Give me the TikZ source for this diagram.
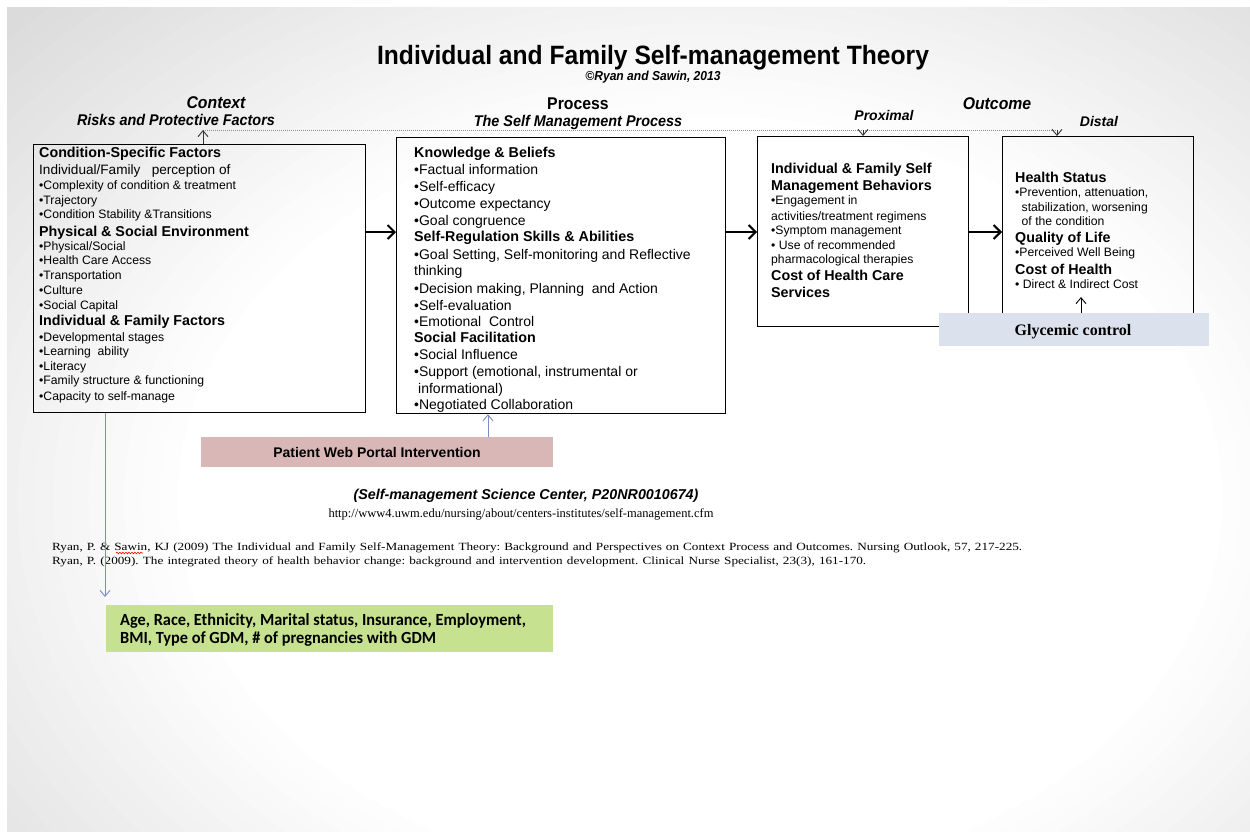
\documentclass[tikz,border=0pt]{standalone}
\usepackage{fontspec}
\setmainfont{Liberation Sans}
\newfontfamily\narrowf[FakeStretch=0.93]{Liberation Sans}
\newfontfamily\serf{Liberation Serif}
\newfontfamily\serwide[FakeStretch=1.2]{Liberation Serif}
\newfontfamily\carl[FakeStretch=0.96]{Carlito}
\usetikzlibrary{arrows.meta,decorations.pathmorphing}
\definecolor{pinkbox}{HTML}{D9B7B7}
\definecolor{glybox}{HTML}{DCE1EE}
\definecolor{greenbox}{HTML}{C6E18F}
\definecolor{bluearr}{HTML}{7A8BC6}
\newcommand\myfhd{\bfseries\fontsize{14.3}{16}\selectfont}
\newcommand\myfsb{\fontsize{13.6}{16}\selectfont}
\newcommand\myfit{\fontsize{12.2}{14}\selectfont}
\newcommand\myfpi{\fontsize{14}{16}\selectfont}
\begin{document}
\begin{tikzpicture}[x=1pt,y=-1pt,
  box/.style={draw=black, line width=1.2pt, inner sep=0pt, anchor=north west},
  txt/.style={anchor=base west, inner sep=0pt},
  ctr/.style={anchor=base, inner sep=0pt},
  bigarrow/.style={line width=2pt, -{Straight Barb[length=7pt,width=14pt]}},
  thinarrow/.style={line width=0.9pt, -{Straight Barb[length=6pt,width=10pt]}},
  dotline/.style={black!45, line width=1pt, dash pattern=on 1pt off 1pt},
  head/.style={ctr, font=\narrowf\bfseries\itshape\fontsize{17}{20}\selectfont},
  sub/.style={ctr, font=\narrowf\bfseries\itshape\fontsize{15.5}{18}\selectfont},
  subw/.style={ctr, font=\bfseries\itshape\fontsize{14}{16}\selectfont},
]
\useasboundingbox (0,0) rectangle (1250,831);
% slide background with soft grey edges
\begin{scope}
\clip (7,7) rectangle (1250,831);
\fill[black!14] (7,7) rectangle (1250,831);
\foreach \k in {0,...,24} {
  \pgfmathsetmacro\sc{1-0.45*\k/24}
  \pgfmathsetmacro\g{14*(1-\k/24)}
  \fill[black!\g] (700,500) ellipse ({950*\sc} and {700*\sc});
}
\end{scope}

% titles
\node[ctr, font=\narrowf\bfseries\fontsize{26.5}{30}\selectfont] (title) at (653,64) {Individual and Family Self-management Theory};
\node[ctr, font=\narrowf\bfseries\itshape\fontsize{13}{15}\selectfont] (copy) at (653,80) {©Ryan and Sawin, 2013};
\node[head] (context) at (216,108) {Context};
\node[sub] (risks) at (176,125) {Risks and Protective Factors};
\node[head, font=\narrowf\bfseries\fontsize{17}{20}\selectfont] (process) at (578,109) {Process};
\node[sub] (smp) at (578,126) {The Self Management Process};
\node[head] (outcome) at (997,109) {Outcome};
\node[subw] (proximal) at (884,120.7) {Proximal};
\node[subw] (distal) at (1099,126.7) {Distal};

% boxes
\node[box, minimum width=332pt, minimum height=268pt] (ctx) at (33,144) {};
\node[box, minimum width=329pt, minimum height=276pt] (proc) at (396,137) {};
\node[box, minimum width=211pt, minimum height=190pt] (prox) at (757,136) {};
\node[box, minimum width=191pt, minimum height=190pt] (dist) at (1002,136) {};
\node[fill=glybox, inner sep=0pt, anchor=north west, minimum width=270pt, minimum height=33pt] (gly) at (939,313) {};
\node[ctr, font=\serf\bfseries\fontsize{16}{18}\selectfont] (glytxt) at (1073,335) {Glycemic control};
\node[fill=pinkbox, inner sep=0pt, anchor=north west, minimum width=352pt, minimum height=30pt] (pat) at (201,437) {};
\node[ctr, font=\bfseries\fontsize{14}{16}\selectfont] (pattxt) at (377,457) {Patient Web Portal Intervention};
\node[fill=greenbox, inner sep=0pt, anchor=north west, minimum width=447pt, minimum height=47pt] (green) at (106,605) {};
\node[txt, font=\carl\bfseries\fontsize{17}{20}\selectfont] (g1) at (120,625) {Age, Race, Ethnicity, Marital status, Insurance, Employment,};
\node[txt, font=\carl\bfseries\fontsize{17}{20}\selectfont] (g2) at (120,643) {BMI, Type of GDM, \# of pregnancies with GDM};

% box texts
\foreach \y/\s/\t [count=\i] in {157.3/hd/{Condition-Specific Factors},
 174.3/sb/{Individual/Family\ \ \ perception of},
 189.3/it/{•Complexity of condition \& treatment},
 204/it/{•Trajectory},
 218.3/it/{•Condition Stability \&Transitions},
 236/hd/{Physical \& Social Environment},
 250/it/{•Physical/Social},
 264.3/it/{•Health Care Access},
 279/it/{•Transportation},
 294.7/it/{•Culture},
 309.3/it/{•Social Capital},
 325/hd/{Individual \& Family Factors},
 341/it/{•Developmental stages},
 355.7/it/{•Learning\ \ ability},
 370/it/{•Literacy},
 384/it/{•Family structure \& functioning},
 400/it/{•Capacity to self-manage}}
  \node[txt, font=\csname myf\s\endcsname, name=ct\i] at (39,\y) {\t};

\foreach \y/\s/\t [count=\i] in {157.3/hd/{Knowledge \& Beliefs},
 174.3/pi/{•Factual information},
 191.7/pi/{•Self-efficacy},
 208.3/pi/{•Outcome expectancy},
 225.3/pi/{•Goal congruence},
 241.7/hd/{Self-Regulation Skills \& Abilities},
 259/pi/{•Goal Setting, Self-monitoring and Reflective},
 275.7/pi/{thinking},
 293/pi/{•Decision making, Planning\ \ and Action},
 310/pi/{•Self-evaluation},
 326/pi/{•Emotional\ \ Control},
 342.7/hd/{Social Facilitation},
 359.7/pi/{•Social Influence},
 376.7/pi/{•Support (emotional, instrumental or},
 393.3/pi/{\hspace*{4pt}informational)},
 409.3/pi/{•Negotiated Collaboration}}
  \node[txt, font=\csname myf\s\endcsname, name=pt\i] at (414,\y) {\t};

\foreach \y/\s/\t [count=\i] in {173.3/hd/{Individual \& Family Self},
 190/hd/{Management Behaviors},
 204/it/{•Engagement in},
 220/it/{activities/treatment regimens},
 234.3/it/{•Symptom management},
 249.3/it/{• Use of recommended},
 263.3/it/{pharmacological therapies},
 280.7/hd/{Cost of Health Care},
 297.3/hd/{Services}}
  \node[txt, font=\csname myf\s\endcsname, name=xt\i] at (771,\y) {\t};

\foreach \y/\s/\t [count=\i] in {182/hd/{Health Status},
 196.7/it/{•Prevention, attenuation,},
 211/it/{\hspace*{6.5pt}stabilization, worsening},
 225/it/{\hspace*{6.5pt}of the condition},
 242.7/hd/{Quality of Life},
 256.7/it/{•Perceived Well Being},
 274/hd/{Cost of Health},
 288.3/it/{• Direct \& Indirect Cost}}
  \node[txt, font=\csname myf\s\endcsname, name=dt\i] at (1015,\y) {\t};

% lower texts
\node[ctr, font=\bfseries\itshape\fontsize{14.3}{16}\selectfont] (sci) at (526,499) {(Self-management Science Center, P20NR0010674)};
\node[ctr, font=\serf\fontsize{12.5}{14}\selectfont] (url) at (521,517) {http://www4.uwm.edu/nursing/about/centers-institutes/self-management.cfm};
\node[txt, font=\serwide\fontsize{11}{12}\selectfont\frenchspacing] (ref1) at (52,550) {\makebox[970pt][s]{Ryan, P. \& Sawin, KJ (2009) The Individual and Family Self-Management Theory: Background and Perspectives on Context Process and Outcomes. Nursing Outlook, 57, 217-225.}};
\node[txt, font=\serwide\fontsize{11}{12}\selectfont\frenchspacing] (ref2) at (52,564) {\makebox[814pt][s]{Ryan, P. (2009). The integrated theory of health behavior change: background and intervention development. Clinical Nurse Specialist, 23(3), 161-170.}};
\draw[red, line width=0.6pt, decorate, decoration={snake, amplitude=0.8pt, segment length=3pt}] (116,553) -- (143,553);

% connectors
\coordinate (arow) at (0,232);
\draw[bigarrow] (ctx.east |- arow) -- (proc.west |- arow);
\draw[bigarrow] (proc.east |- arow) -- (prox.west |- arow);
\draw[bigarrow] (prox.east |- arow) -- (dist.west |- arow);

\coordinate (dl) at (203,130);
\coordinate (dr) at (1057,130);
\coordinate (dp) at (863,130);
\draw[dotline] (dl) -- (dr);
\draw[thinarrow, black!80] (ctx.north -| dl) -- (dl);
\draw[thinarrow, black!80] (dp) -- (prox.north -| dp);
\draw[thinarrow, black!80] (dr) -- (dist.north -| dr);

\coordinate (gtip) at (1081,297);
\draw[thinarrow] (gly.north -| gtip) -- (gtip);
\coordinate (ptx) at (488,0);
\draw[thinarrow, bluearr] (pat.north -| ptx) -- (proc.south -| ptx);
\coordinate (cdn) at (105,597);
\draw[thinarrow, bluearr] (ctx.south -| cdn) -- (cdn);
\end{tikzpicture}
\end{document}
